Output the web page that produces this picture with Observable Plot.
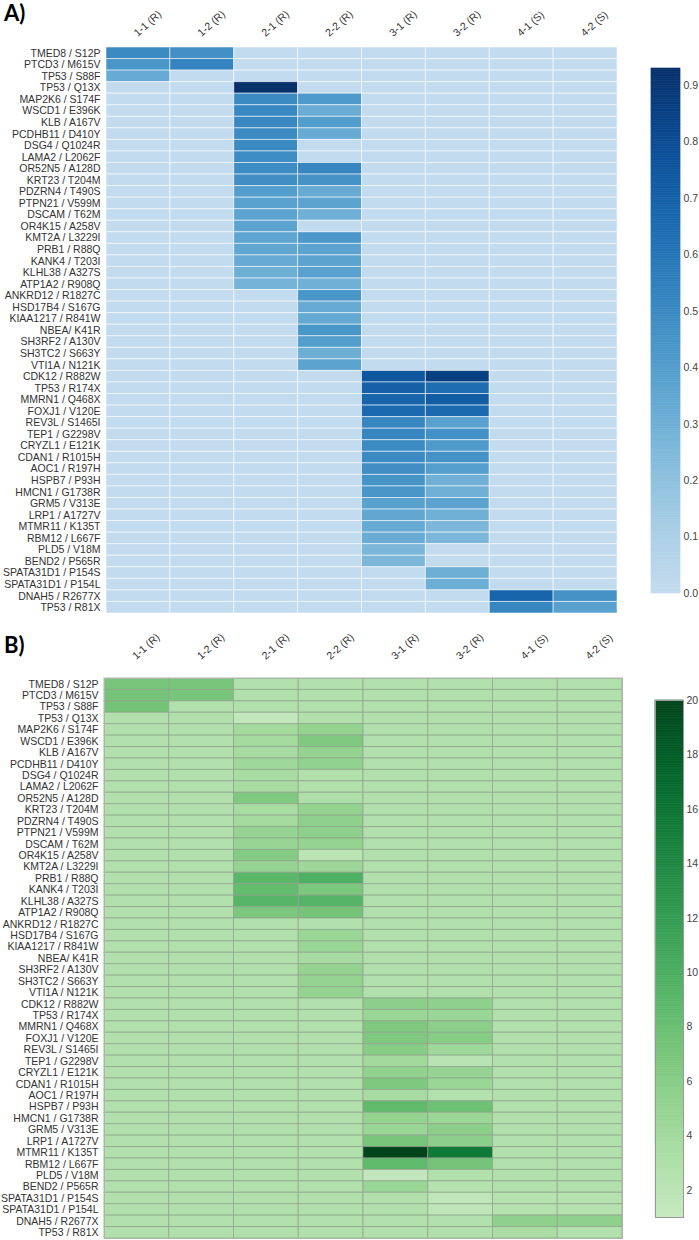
<!DOCTYPE html>
<html>
<head>
<meta charset="utf-8">
<script src="https://cdn.jsdelivr.net/npm/d3@7"></script>
<script src="https://cdn.jsdelivr.net/npm/@observablehq/plot@0.6"></script>
<style>
  body { margin: 0; background: #fff; }
  #page { position: relative; width: 699px; height: 1240px; overflow: hidden; font-family: "Liberation Sans", Arial, sans-serif; }
  .panel-label { position: absolute; font-family: Lato, "Open Sans", sans-serif; font-weight: 700; font-size: 22px; color: #000; }
  .abs { position: absolute; }
  svg { overflow: visible; }
</style>
</head>
<body>
<div id="page">
  <div class="panel-label" style="left:4px;top:-1px;">A)</div>
  <div class="panel-label" style="left:4px;top:631px;">B)</div>
  <div id="chartA" class="abs" style="left:0;top:0;"></div>
  <div id="barA" class="abs" style="left:620px;top:0;"></div>
  <div id="chartB" class="abs" style="left:0;top:631px;"></div>
  <div id="barB" class="abs" style="left:620px;top:631px;"></div>
</div>
<script>
// ---------- categories ----------
const samples = ["1-1 (R)", "1-2 (R)", "2-1 (R)", "2-2 (R)", "3-1 (R)", "3-2 (R)", "4-1 (S)", "4-2 (S)"];
const mutations = [
  "TMED8 / S12P", "PTCD3 / M615V", "TP53 / S88F", "TP53 / Q13X", "MAP2K6 / S174F",
  "WSCD1 / E396K", "KLB / A167V", "PCDHB11 / D410Y", "DSG4 / Q1024R", "LAMA2 / L2062F",
  "OR52N5 / A128D", "KRT23 / T204M", "PDZRN4 / T490S", "PTPN21 / V599M", "DSCAM / T62M",
  "OR4K15 / A258V", "KMT2A / L3229I", "PRB1 / R88Q", "KANK4 / T203I", "KLHL38 / A327S",
  "ATP1A2 / R908Q", "ANKRD12 / R1827C", "HSD17B4 / S167G", "KIAA1217 / R841W", "NBEA/ K41R",
  "SH3RF2 / A130V", "SH3TC2 / S663Y", "VTI1A / N121K", "CDK12 / R882W", "TP53 / R174X",
  "MMRN1 / Q468X", "FOXJ1 / V120E", "REV3L / S1465I", "TEP1 / G2298V", "CRYZL1 / E121K",
  "CDAN1 / R1015H", "AOC1 / R197H", "HSPB7 / P93H", "HMCN1 / G1738R", "GRM5 / V313E",
  "LRP1 / A1727V", "MTMR11 / K135T", "RBM12 / L667F", "PLD5 / V18M", "BEND2 / P565R",
  "SPATA31D1 / P154S", "SPATA31D1 / P154L", "DNAH5 / R2677X", "TP53 / R81X"
];

// ---------- panel A: allele frequency per sample (one array per sample, rows in mutation order) ----------
const afA_1_1 = [0.50,0.44,0.33,0,0,0,0,0,0,0, 0,0,0,0,0,0,0,0,0,0, 0,0,0,0,0,0,0,0,0,0, 0,0,0,0,0,0,0,0,0,0, 0,0,0,0,0,0,0,0,0];
const afA_1_2 = [0.47,0.53,0,0,0,0,0,0,0,0, 0,0,0,0,0,0,0,0,0,0, 0,0,0,0,0,0,0,0,0,0, 0,0,0,0,0,0,0,0,0,0, 0,0,0,0,0,0,0,0,0];
const afA_2_1 = [0,0,0,0.93,0.50,0.51,0.51,0.50,0.50,0.49, 0.49,0.48,0.40,0.38,0.37,0.37,0.36,0.35,0.33,0.31, 0.28,0,0,0,0,0,0,0,0,0, 0,0,0,0,0,0,0,0,0,0, 0,0,0,0,0,0,0,0,0];
const afA_2_2 = [0,0,0,0,0.42,0.32,0.40,0.33,0,0, 0.52,0.46,0.33,0.37,0.30,0,0.43,0.37,0.37,0.38, 0.30,0.44,0.33,0.34,0.44,0.40,0.31,0.37,0,0, 0,0,0,0,0,0,0,0,0,0, 0,0,0,0,0,0,0,0,0];
const afA_3_1 = [0,0,0,0,0,0,0,0,0,0, 0,0,0,0,0,0,0,0,0,0, 0,0,0,0,0,0,0,0,0.75,0.70, 0.68,0.66,0.52,0.52,0.50,0.50,0.48,0.45,0.44,0.38, 0.35,0.33,0.32,0.26,0.26,0,0,0,0];
const afA_3_2 = [0,0,0,0,0,0,0,0,0,0, 0,0,0,0,0,0,0,0,0,0, 0,0,0,0,0,0,0,0,0.86,0.64, 0.72,0.66,0.38,0.47,0.42,0.46,0.40,0.30,0.30,0.37, 0.30,0.26,0.26,0,0,0.31,0.31,0,0];
const afA_4_1 = [0,0,0,0,0,0,0,0,0,0, 0,0,0,0,0,0,0,0,0,0, 0,0,0,0,0,0,0,0,0,0, 0,0,0,0,0,0,0,0,0,0, 0,0,0,0,0,0,0,0.68,0.52];
const afA_4_2 = [0,0,0,0,0,0,0,0,0,0, 0,0,0,0,0,0,0,0,0,0, 0,0,0,0,0,0,0,0,0,0, 0,0,0,0,0,0,0,0,0,0, 0,0,0,0,0,0,0,0.46,0.38];

// ---------- panel B: second metric per sample ----------
const valB_1_1 = [7.0,7.2,7.3,2.7,2.7,2.7,2.7,2.7,2.7,2.7, 2.7,2.7,2.7,2.7,2.7,2.7,2.7,2.7,2.7,2.7, 2.7,2.7,2.7,2.7,2.7,2.7,2.7,2.7,2.7,2.7, 2.7,2.7,2.7,2.7,2.7,2.7,2.7,2.7,2.7,2.7, 2.7,2.7,2.7,2.7,2.7,2.7,2.7,2.7,2.7];
const valB_1_2 = [7.0,7.0,2.7,2.7,2.7,2.7,2.7,2.7,2.7,2.7, 2.7,2.7,2.7,2.7,2.7,2.7,2.7,2.7,2.7,2.7, 2.7,2.7,2.7,2.7,2.7,2.7,2.7,2.7,2.7,2.7, 2.7,2.7,2.7,2.7,2.7,2.7,2.7,2.7,2.7,2.7, 2.7,2.7,2.7,2.7,2.7,2.7,2.7,2.7,2.7];
const valB_2_1 = [2.7,2.7,2.7,1.3,3.8,3.8,3.6,4.2,3.5,3.5, 6.5,3.5,3.8,4.8,4.8,6.2,4.8,9.0,8.3,9.2, 6.8,2.7,2.7,2.7,2.7,2.7,2.7,2.7,2.7,2.7, 2.7,2.7,2.7,2.7,2.7,2.7,2.7,2.7,2.7,2.7, 2.7,2.7,2.7,2.7,2.7,2.7,2.7,2.7,2.7];
const valB_2_2 = [2.7,2.7,2.7,2.7,5.0,6.5,5.0,5.2,2.8,2.8, 3.0,5.0,5.5,5.5,5.0,2.0,4.3,9.8,6.7,9.3, 7.2,2.6,4.6,4.6,3.6,5.0,5.0,5.0,2.7,2.7, 2.7,2.7,2.7,2.7,2.7,2.7,2.7,2.7,2.7,2.7, 2.7,2.7,2.7,2.7,2.7,2.7,2.7,2.7,2.7];
const valB_3_1 = [2.7,2.7,2.7,2.7,2.7,2.7,2.7,2.7,2.7,2.7, 2.7,2.7,2.7,2.7,2.7,2.7,2.7,2.7,2.7,2.7, 2.7,2.7,2.7,2.7,2.7,2.7,2.7,2.7,5.6,4.6, 6.6,6.6,6.0,4.0,5.2,6.6,3.6,8.6,5.0,4.6, 7.0,20.0,8.6,1.3,4.6,2.7,2.7,2.7,2.7];
const valB_3_2 = [2.7,2.7,2.7,2.7,2.7,2.7,2.7,2.7,2.7,2.7, 2.7,2.7,2.7,2.7,2.7,2.7,2.7,2.7,2.7,2.7, 2.7,2.7,2.7,2.7,2.7,2.7,2.7,2.7,5.5,4.6, 5.6,6.0,4.2,2.2,4.8,4.6,2.6,7.6,4.5,5.6, 5.6,15.5,7.2,2.6,2.5,1.6,1.6,2.7,2.7];
const valB_4_1 = [2.7,2.7,2.7,2.7,2.7,2.7,2.7,2.7,2.7,2.7, 2.7,2.7,2.7,2.7,2.7,2.7,2.7,2.7,2.7,2.7, 2.7,2.7,2.7,2.7,2.7,2.7,2.7,2.7,2.7,2.7, 2.7,2.7,2.7,2.7,2.7,2.7,2.7,2.7,2.7,2.7, 2.7,2.7,2.7,2.7,2.7,2.4,2.4,5.5,3.3];
const valB_4_2 = [2.7,2.7,2.7,2.7,2.7,2.7,2.7,2.7,2.7,2.7, 2.7,2.7,2.7,2.7,2.7,2.7,2.7,2.7,2.7,2.7, 2.7,2.7,2.7,2.7,2.7,2.7,2.7,2.7,2.7,2.7, 2.7,2.7,2.7,2.7,2.7,2.7,2.7,2.7,2.7,2.7, 2.7,2.7,2.7,2.7,2.7,2.4,2.4,5.5,2.6];

// ---------- colour bar ticks ----------
const ticksA = [0.0, 0.1, 0.2, 0.3, 0.4, 0.5, 0.6, 0.7, 0.8, 0.9];
const ticksB = [2, 4, 6, 8, 10, 12, 14, 16, 18, 20];
const domainA = [0, 0.93];
const domainB = [1, 20];

// ---------- build tables ----------
const seriesA = [afA_1_1, afA_1_2, afA_2_1, afA_2_2, afA_3_1, afA_3_2, afA_4_1, afA_4_2];
const seriesB = [valB_1_1, valB_1_2, valB_2_1, valB_2_2, valB_3_1, valB_3_2, valB_4_1, valB_4_2];
const toTable = (series) => samples.flatMap((s, j) => mutations.map((m, i) => ({sample: s, mutation: m, value: series[j][i]})));
const tableA = toTable(seriesA);
const tableB = toTable(seriesB);

const blues = t => d3.interpolateBlues(0.25 + 0.75 * t);
const greens = t => d3.interpolateGreens(0.25 + 0.75 * t);

const font = {fontSize: "10.5px", fontFamily: "'Liberation Sans', Arial, sans-serif", color: "#333", background: "transparent", overflow: "visible"};

function heatmap({table, interp, domain, marginLeft, marginRight, width, height, labelDy, stroke, strokeOpacity, frame}) {
  return Plot.plot({
    width, height,
    marginTop: 47, marginBottom: 0, marginLeft, marginRight,
    style: font,
    x: {domain: samples, axis: null, padding: 0, round: false},
    y: {domain: mutations, padding: 0, round: false, label: null, tickSize: 0, tickPadding: 6},
    color: {type: "linear", domain, interpolate: interp, clamp: true},
    marks: [
      Plot.cell(table, {x: "sample", y: "mutation", fill: "value", inset: 0, stroke, strokeWidth: 1, strokeOpacity}),
      frame ? Plot.frame({stroke: "#a9b9a5", strokeWidth: 1}) : null,
      Plot.text(samples, {x: d => d, frameAnchor: "top", dy: labelDy, dx: -3, rotate: -42, textAnchor: "start", lineAnchor: "middle", fill: "#333", fontSize: 10.5}),
      Plot.axisY({tickSize: 0, tickPadding: 6, label: null, fill: "#333"})
    ]
  });
}

function colorbar({domain, interp, ticks, fmt, width, height, marginTop, marginBottom, marginLeft, marginRight, frame}) {
  const n = 300;
  const step = (domain[1] - domain[0]) / n;
  const bins = d3.range(n).map(i => ({y1: domain[0] + i * step, y2: domain[0] + (i + 1) * step, v: domain[0] + (i + 0.5) * step}));
  return Plot.plot({
    width, height, marginTop, marginBottom, marginLeft, marginRight,
    style: font,
    x: {domain: [0, 1], axis: null},
    y: {domain, axis: null},
    color: {type: "linear", domain, interpolate: interp},
    marks: [
      Plot.rect(bins, {x1: 0, x2: 1, y1: "y1", y2: "y2", fill: "v", stroke: "v", strokeWidth: 0.6}),
      frame ? Plot.frame({stroke: "#9a9a9a", strokeWidth: 1}) : null,
      Plot.axisY({anchor: "right", ticks, tickSize: 0, tickPadding: 3, tickFormat: fmt, label: null, fill: "#444"})
    ]
  });
}

document.getElementById("chartA").append(heatmap({
  table: tableA, interp: blues, domain: domainA, marginLeft: 106, marginRight: 13, width: 630, height: 613,
  labelDy: -13, stroke: "white", strokeOpacity: 0.55, frame: false
}));
document.getElementById("barA").append(colorbar({
  domain: domainA, interp: blues, ticks: ticksA, fmt: d3.format(".1f"),
  width: 79, height: 620, marginTop: 68, marginBottom: 27, marginLeft: 31, marginRight: 19, frame: false
}));
document.getElementById("chartB").append(heatmap({
  table: tableB, interp: greens, domain: domainB, marginLeft: 104, marginRight: 8, width: 630, height: 607,
  labelDy: -21, stroke: "#8f9f8c", strokeOpacity: 0.7, frame: true
}));
document.getElementById("barB").append(colorbar({
  domain: domainB, interp: greens, ticks: ticksB, fmt: d3.format("d"),
  width: 79, height: 609, marginTop: 69, marginBottom: 23, marginLeft: 35, marginRight: 16, frame: true
}));
</script>
</body>
</html>
